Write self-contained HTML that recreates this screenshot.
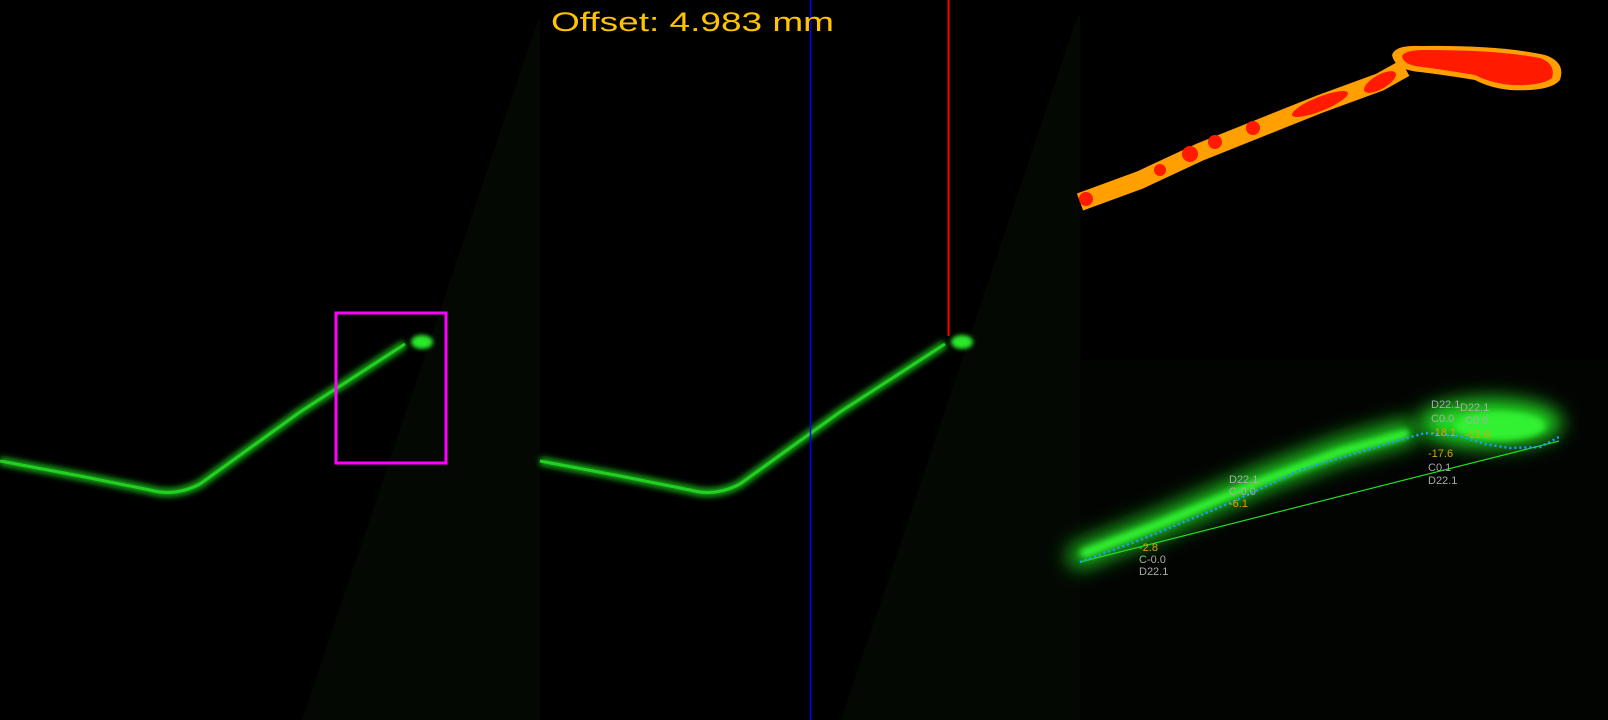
<!DOCTYPE html>
<html><head><meta charset="utf-8"><style>
html,body{margin:0;padding:0;background:#000;width:1608px;height:720px;overflow:hidden}
svg{display:block}
text{font-family:"Liberation Sans",sans-serif}
</style></head><body>
<svg width="1608" height="720" viewBox="0 0 1608 720">
<defs>
<filter id="blur2" x="-20%" y="-50%" width="140%" height="200%"><feGaussianBlur stdDeviation="2"/></filter>
<filter id="blur3" x="-20%" y="-50%" width="140%" height="200%"><feGaussianBlur stdDeviation="3"/></filter>
<filter id="blur8" x="-30%" y="-80%" width="160%" height="260%"><feGaussianBlur stdDeviation="10"/></filter>
</defs>
<rect width="1608" height="720" fill="#000"/>
<g>
<polygon points="538,20 540,20 540,720 302,720" fill="#030803"/>
<path d="M0,461 L80,476 L150,490 Q175,497 200,484 L300,412 L405,344" fill="none" stroke="#18a018" stroke-width="9" filter="url(#blur3)"/>
<path d="M0,461 L80,476 L150,490 Q175,497 200,484 L300,412 L405,344" fill="none" stroke="#22d022" stroke-width="3"/>
<ellipse cx="422" cy="342" rx="11" ry="7" fill="#2ae82a" filter="url(#blur2)"/>
<rect x="336" y="313" width="110" height="150" fill="none" stroke="#ff00ff" stroke-width="3"/>
</g>
<g>
<polygon points="1078,15 1080,15 1080,720 841,720" fill="#030803"/>
<path d="M540,461 L620,476 L690,490 Q715,497 740,484 L840,412 L945,344" fill="none" stroke="#18a018" stroke-width="9" filter="url(#blur3)"/>
<path d="M540,461 L620,476 L690,490 Q715,497 740,484 L840,412 L945,344" fill="none" stroke="#22d022" stroke-width="3"/>
<ellipse cx="962" cy="342" rx="11" ry="7" fill="#2ae82a" filter="url(#blur2)"/>
<line x1="810.5" y1="0" x2="810.5" y2="720" stroke="#0000ff" stroke-width="1.5"/>
<line x1="948.5" y1="0" x2="948.5" y2="336" stroke="#ff0000" stroke-width="2"/>
<text x="551" y="31" font-size="27" fill="#ffc400" textLength="283" lengthAdjust="spacingAndGlyphs">Offset: 4.983 mm</text>
</g>
<g>
<rect x="1080" y="360" width="528" height="360" fill="#020402"/>
<polyline points="1080,202 1140,180 1200,152 1260,128 1320,104 1380,82 1405,68" fill="none" stroke="#ffa000" stroke-width="18" stroke-linejoin="round"/>
<g fill="#ff1a00">
<circle cx="1086" cy="199" r="7"/><circle cx="1160" cy="170" r="6"/><circle cx="1190" cy="154" r="8"/>
<circle cx="1215" cy="142" r="7"/><circle cx="1253" cy="128" r="7"/>
<ellipse cx="1320" cy="104" rx="30" ry="7" transform="rotate(-22 1320 104)"/>
<ellipse cx="1380" cy="82" rx="18" ry="7" transform="rotate(-30 1380 82)"/>
</g>
<path d="M1392,55 Q1395,45 1420,46 Q1500,45 1545,55 Q1566,62 1560,80 Q1550,92 1510,90 Q1490,88 1475,80 Q1445,75 1420,72 Q1395,70 1392,55 Z" fill="#ffa000"/>
<path d="M1402,56 Q1405,50 1425,50 Q1500,50 1540,58 Q1556,64 1552,78 Q1542,86 1512,85 Q1490,83 1475,75 Q1445,70 1422,67 Q1403,65 1402,56 Z" fill="#ff1a00"/>
<polyline points="1080,556 1160,524 1260,480 1340,450 1405,432" fill="none" stroke="#1cc81c" stroke-width="24" stroke-linecap="round" filter="url(#blur8)"/>
<polyline points="1085,553 1160,524 1260,482 1340,452 1405,434" fill="none" stroke="#30f030" stroke-width="9" stroke-linecap="round" filter="url(#blur3)"/>
<ellipse cx="1490" cy="423" rx="72" ry="24" fill="#22e022" filter="url(#blur8)"/>
<ellipse cx="1500" cy="426" rx="45" ry="14" fill="#30f030" filter="url(#blur3)"/>
<line x1="1080" y1="562" x2="1559" y2="441" stroke="#22dd22" stroke-width="1.2"/>
<polyline points="1080,562 1140,540 1230,503 1300,470 1400,440 1425,433 1460,436 1485,444 1510,448 1540,447 1559,437" fill="none" stroke="#1a9fff" stroke-width="2.5" stroke-dasharray="2 3"/>
<g font-size="11" fill="#aaaaaa">
<text x="1229" y="483">D22.1</text><text x="1229" y="495">C-0.0</text><text x="1229" y="507" fill="#e0a000">-6.1</text>
<text x="1139" y="551" fill="#e0a000">-2.8</text><text x="1139" y="563">C-0.0</text><text x="1139" y="575">D22.1</text>
<text x="1431" y="408">D22.1</text><text x="1460" y="411">D22.1</text><text x="1431" y="422">C0.0</text><text x="1465" y="424">C0.0</text>
<text x="1431" y="436" fill="#e0a000">-18.1</text><text x="1465" y="438" fill="#e0a000">-13.8</text>
<text x="1428" y="457" fill="#e0a000">-17.6</text><text x="1428" y="471">C0.1</text><text x="1428" y="484">D22.1</text>
</g>
</g>
</svg>
</body></html>
